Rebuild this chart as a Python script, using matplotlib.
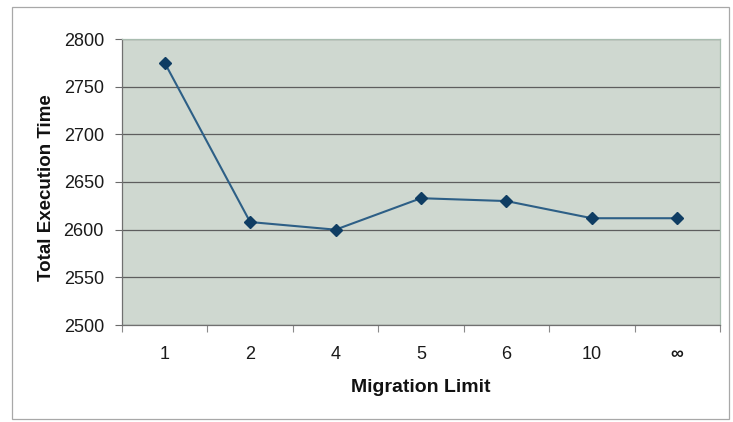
import matplotlib
matplotlib.use("Agg")
import matplotlib.pyplot as plt
from matplotlib.patches import Rectangle

# Migration limit settings and measured total execution time
limits = ["1", "2", "4", "5", "6", "10", "\u221e"]
exec_time = [2775, 2608, 2600, 2633, 2630, 2612, 2612]
y_ticks = [2500, 2550, 2600, 2650, 2700, 2750, 2800]

plt.rcParams["font.family"] = ["Liberation Sans", "DejaVu Sans"]

W, H = 733, 422
fig = plt.figure(figsize=(W / 100, H / 100), dpi=100)
fig.patch.set_facecolor("white")

# outer chart border
fig.add_artist(Rectangle((12 / W, 1 - 419 / H), (729 - 12) / W, (419 - 7) / H,
                         transform=fig.transFigure, fill=False,
                         edgecolor="#a8a8a8", linewidth=0.9))

ax = fig.add_axes([122 / W, 1 - 325 / H, (720 - 122) / W, (325 - 39) / H])
ax.set_facecolor("#cfd8d0")

x = list(range(len(limits)))
ax.plot(x, exec_time, color="#2d5f86", linewidth=1.5, marker="D",
        markersize=6, markerfacecolor="#0f3d63", markeredgecolor="#0f3d63", zorder=3)

ax.set_xlim(-0.5, len(limits) - 0.5)
ax.set_ylim(2500, 2800)

# y axis
ax.set_yticks(y_ticks)
ax.set_yticklabels([str(v) for v in y_ticks], fontsize=13, color="#1a1a1a")
ax.tick_params(axis="y", direction="out", length=5, width=0.8, color="#6a6a6a", pad=8)
ax.yaxis.grid(True, color="#5e5e5e", linewidth=0.9)
ax.set_axisbelow(True)

# x axis: tick marks at category boundaries, labels centred on categories
ax.set_xticks([i - 0.5 for i in range(len(limits) + 1)])
ax.set_xticklabels([])
ax.tick_params(axis="x", which="major", direction="out", length=5, width=0.8, color="#8a8a8a")
ax.set_xticks(x, minor=True)
ax.set_xticklabels(limits, minor=True, fontsize=13, color="#1a1a1a")
ax.tick_params(axis="x", which="minor", length=0, pad=15)
ax.get_xticklabels(minor=True)[-1].set_fontweight("bold")

for side in ("left", "bottom"):
    ax.spines[side].set_color("#707070")
    ax.spines[side].set_linewidth(0.9)
for side in ("top", "right"):
    ax.spines[side].set_color("#a9bdb0")
    ax.spines[side].set_linewidth(0.9)

fig.text(421 / W, 1 - 388 / H, "Migration Limit", ha="center", va="center",
         fontsize=14, fontweight="bold", color="#111111")
fig.text(47 / W, 1 - 188 / H, "Total Execution Time", ha="center", va="center",
         rotation=90, fontsize=13.5, fontweight="bold", color="#111111")

fig.savefig("out.png", dpi=100, facecolor="white")
